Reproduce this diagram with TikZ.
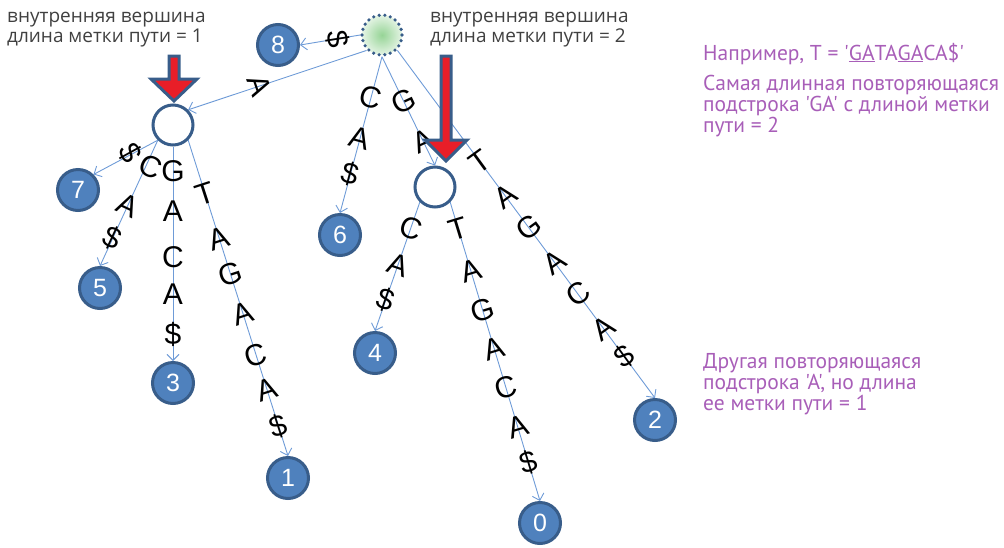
\documentclass[tikz,border=0pt]{standalone}
\usepackage{fontspec}
\setmainfont{Liberation Sans}
\newfontfamily\notefont{Open Sans}
\newfontfamily\purplefont{PT Sans}
\usetikzlibrary{positioning, arrows.meta, calc}
\definecolor{leafblue}  {RGB}{79, 129, 189}
\definecolor{leafborder}{RGB}{56, 93, 138}
\definecolor{edgeblue}  {RGB}{110, 155, 215}
\definecolor{notegray}  {RGB}{64, 64, 64}
\definecolor{notepurple}{RGB}{168, 94, 184}
\definecolor{rootgreen} {RGB}{150, 212, 150}
\definecolor{arrowred}  {RGB}{232, 30, 40}
\tikzset{
  % Leaf of the suffix tree
  leaf/.style={
    circle, minimum size=41pt, inner sep=0pt,
    fill=leafblue, draw=leafborder, line width=3pt,
    text=white, font=\fontsize{25}{25}\selectfont
  },
  % Inner vertex
  ivert/.style={
    circle, minimum size=40pt, inner sep=0pt,
    fill=white, draw=leafborder, line width=3pt
  },
  % Root vertex
  rootv/.style={
    circle, minimum size=40pt, inner sep=0pt,
    inner color=rootgreen, outer color=rootgreen!25!white,
    draw=leafborder, line width=3.6pt, line cap=round,
    dash pattern=on 0pt off 5.7pt
  },
  % Tree edge
  tedge/.style={-{Straight Barb[length=6pt,width=12pt]}, line width=0.9pt, color=edgeblue},
  % Letter on an edge
  lbl/.style={font=\fontsize{30}{30}\selectfont, text=black, inner sep=0pt},
  % Big pointer
  redarrow/.style={fill=arrowred, draw=leafborder, line width=3pt},
  graynote/.style={font=\notefont\fontsize{19}{17.5}\selectfont, text=notegray, align=left, inner sep=0pt},
  purplenote/.style={font=\purplefont\fontsize{21.5}{21}\selectfont, text=notepurple, align=left, inner sep=0pt},
}

\begin{document}
\begin{tikzpicture}[x=1pt, y=-1pt]
  \useasboundingbox (0,0) rectangle (1004,547);

  % vertices
  \node[rootv] (r)   at (382,35)  {};
  \node[leaf]  (l8)  at (278,45)  {8};
  \node[ivert] (iA)  at (173,125) {};
  \node[ivert] (iGA) at (435,187) {};
  \node[leaf]  (l7)  at (78,190)  {7};
  \node[leaf]  (l5)  at (100,288) {5};
  \node[leaf]  (l3)  at (173,383) {3};
  \node[leaf]  (l1)  at (288,478) {1};
  \node[leaf]  (l6)  at (340,235) {6};
  \node[leaf]  (l4)  at (375,353) {4};
  \node[leaf]  (l0)  at (540,523) {0};
  \node[leaf]  (l2)  at (655,420) {2};

  % edges from the root
  \draw[tedge] (r.west) -- node[lbl, pos=.37, rotate=-81] {\$} (l8.east);
  \draw[tedge] (r.south west) -- node[lbl, pos=.6, rotate=-71] {A} (iA.north east);
  \draw[tedge] (r.south) --
    node[lbl, pos=.26, rotate=-15] {C}
    node[lbl, pos=.52, rotate=-15] {A}
    node[lbl, pos=.75, rotate=-15] {\$} (l6.north);
  \draw[tedge] (r.south) --
    node[lbl, pos=.41, rotate=25] {G}
    node[lbl, pos=.77, rotate=25] {A} (iGA.north);
  \draw[tedge] (r.south east) --
    node[lbl, pos=.32, rotate=36] {T}
    node[lbl, pos=.42, rotate=36] {A}
    node[lbl, pos=.51, rotate=36] {G}
    node[lbl, pos=.61, rotate=36] {A}
    node[lbl, pos=.70, rotate=36] {C}
    node[lbl, pos=.80, rotate=36] {A}
    node[lbl, pos=.88, rotate=36] {\$} (l2.north);

  % edges from the vertex A
  \draw[tedge] (iA.south west) -- node[lbl, pos=.42, yshift=2pt, rotate=-61] {\$} (l7.north east);
  \draw[tedge] (iA.south west) --
    node[lbl, pos=.21, xshift=5pt, rotate=-25] {C}
    node[lbl, pos=.52, rotate=-25] {A}
    node[lbl, pos=.78, rotate=-25] {\$} (l5.north);
  \draw[tedge] (iA.south) --
    node[lbl, pos=.115] {G}
    node[lbl, pos=.30]  {A}
    node[lbl, pos=.515] {C}
    node[lbl, pos=.69]  {A}
    node[lbl, pos=.875] {\$} (l3.north);
  \draw[tedge] (iA.south east) --
    node[lbl, pos=.17, rotate=18] {T}
    node[lbl, pos=.31, rotate=18] {A}
    node[lbl, pos=.425, rotate=18] {G}
    node[lbl, pos=.55, rotate=18] {A}
    node[lbl, pos=.68, rotate=18] {C}
    node[lbl, pos=.79, rotate=18] {A}
    node[lbl, pos=.905, rotate=18] {\$} (l1.north);

  % edges from the vertex GA
  \draw[tedge] (iGA.south west) --
    node[lbl, pos=.2, rotate=-19] {C}
    node[lbl, pos=.49, rotate=-19] {A}
    node[lbl, pos=.76, rotate=-19] {\$} (l4.north);
  \draw[tedge] (iGA.south east) --
    node[lbl, pos=.09, rotate=17] {T}
    node[lbl, pos=.23, rotate=17] {A}
    node[lbl, pos=.36, rotate=17] {G}
    node[lbl, pos=.49, rotate=17] {A}
    node[lbl, pos=.62, rotate=17] {C}
    node[lbl, pos=.75, rotate=17] {A}
    node[lbl, pos=.87, rotate=17] {\$} (l0.north);

  % pointers to the inner vertices
  \draw[redarrow] (169,56) -- ++(10,0) -- ++(0,23) -- ++(18,0) -- ++(-23,22)
    -- ++(-23,-22) -- ++(18,0) -- cycle;
  \draw[redarrow] (441,56) -- ++(10,0) -- ++(0,84) -- ++(16,0) -- ++(-21,21)
    -- ++(-21,-21) -- ++(16,0) -- cycle;

  % notes
  \node[graynote, anchor=base west] (noteA)  at (7,42)
    {внутренняя вершина\\длина метки пути = 1};
  \node[graynote, anchor=base west] (noteGA) at (430,42)
    {внутренняя вершина\\длина метки пути = 2};
  \node[purplenote, anchor=base west] (example) at (703,60)
    {Например, T = '\underline{GA}TA\underline{GA}CA\$'};
  \node[purplenote, anchor=base west] (longest) at (703,132)
    {Самая длинная повторяющаяся\\подстрока 'GA' с длиной метки\\пути = 2};
  \node[purplenote, anchor=base west] (other) at (703,410)
    {Другая повторяющаяся\\подстрока 'A', но длина\\ее метки пути = 1};
\end{tikzpicture}
\end{document}
